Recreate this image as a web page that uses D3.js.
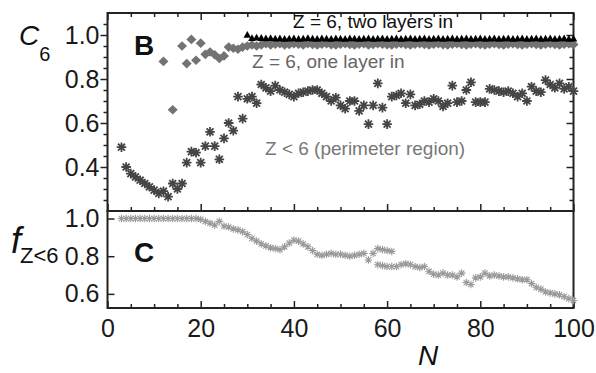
<!DOCTYPE html>
<html>
<head>
<meta charset="utf-8">
<script src="https://cdn.jsdelivr.net/npm/d3@7"></script>
<style>
  body { margin: 0; background: #fff; }
  svg { font-family: "Liberation Sans", Arial, Helvetica, sans-serif; }
</style>
</head>
<body>
<svg id="chart" width="596" height="373"></svg>
<script>
// C6 of the Z<6 (perimeter) particles, N = 3..100
const perimeterC6 = [
  .49, .40, .37, .355, .34, .325, .31, .295, .28, .29,
  .265, .325, .30, .325, .42, .47, .465, .42, .495, .56,
  .495, .435, .53, .60, .565, .72, .62, .71, .72, .69,
  .775, .76, .745, .77, .75, .74, .73, .72, .735, .74,
  .745, .75, .75, .735, .72, .70, .715, .68, .665, .70,
  .70, .655, .68, .595, .68, .78, .67, .595, .72, .725,
  .735, .69, .73, .68, .685, .70, .695, .71, .70, .675,
  .69, .77, .695, .70, .75, .785, .695, .695, .695, .755,
  .75, .745, .74, .745, .735, .72, .735, .70, .765, .745,
  .74, .795, .775, .76, .78, .755, .765, .745
];

// Z = 6, one layer in
const oneLayerN = [12, 14, 16, 17, 18, 19, 20, 21, 22, 23, 24, 25, 26, 27, 28, 29, 30];
const oneLayerC6 = [.88, .66, .95, .87, .98, .885, .963, .912, .923, .91, .893, .905, .945, .94, .935, .945, .95];
// N = 31..100
const oneLayerTail = [
  .955, .95, .955, .96, .955, .958, .96, .955, .957, .96,
  .958, .955, .96, .957, .955, .958, .96, .956, .955, .958,
  .96, .957, .955, .958, .96, .955, .957, .96, .958, .956,
  .955, .958, .96, .957, .955, .958, .96, .957, .955, .958,
  .96, .956, .955, .958, .96, .957, .955, .958, .96, .957,
  .955, .958, .96, .957, .955, .958, .96, .957, .955, .958,
  .96, .957, .955, .958, .96, .957, .955, .958, .96, .957
];

// Z = 6, two layers in, N = 30..100
const twoLayerC6 = [
  1.0, .985, .988, .986, .984, .985, .983, .984, .982, .983,
  .984, .982, .983, .985, .983, .982, .984, .983, .982, .984,
  .983, .982, .984, .983, .982, .983, .984, .982, .983, .984,
  .982, .983, .984, .982, .983, .984, .982, .983, .984, .982,
  .983, .984, .982, .983, .984, .982, .983, .984, .982, .983,
  .984, .982, .983, .984, .982, .983, .984, .982, .983, .984,
  .982, .983, .984, .982, .983, .984, .982, .983, .984, .982,
  .983
];

// fraction of Z<6 particles, N = 3..100
const fractionLow = [
  1.0, 1.0, 1.0, 1.0, 1.0, 1.0, 1.0, 1.0, 1.0, 1.0,
  1.0, 1.0, 1.0, 1.0, 1.0, 1.0, 1.0, .995, .985, .975,
  .965, .985, .96, .955, .945, .94, .93, .915, .895, .88,
  .865, .855, .845, .84, .835, .85, .87, .885, .88, .865,
  .85, .83, .81, .805, .81, .815, .81, .81, .805, .80,
  .805, .81, .815, .78, .815, .84, .835, .83, .825, .745,
  .755, .76, .755, .745, .74, .745, .72, .705, .70, .71,
  .70, .70, .69, .71, .66, .65, .685, .69, .71, .695,
  .70, .695, .69, .69, .685, .68, .675, .675, .655, .635,
  .625, .61, .605, .60, .595, .585, .575, .565
];
const fractionExtraN = [58, 59, 60, 61];
const fractionExtra = [.755, .75, .745, .745];

const xTicks = [0, 20, 40, 60, 80, 100];
const c6Ticks = [0.4, 0.6, 0.8, 1.0];
const fTicks = [0.6, 0.8, 1.0];

const svg = d3.select("#chart");

const x = d3.scaleLinear().domain([0, 100]).range([107.5, 573.5]);
const yB = d3.scaleLinear().domain([0.2, 1.1]).range([211, 13]);
const yC = d3.scaleLinear().domain([0.525, 1.04]).range([308, 211]);

const xMinor = d3.range(5, 100, 5).filter(v => v % 20 !== 0);
const yBMinor = d3.range(5, 22).filter(i => i % 4 !== 0).map(i => i * 0.05);

function addAxis(axis, transform, labelSize) {
  const g = svg.append("g")
    .attr("transform", transform)
    .call(axis)
    .attr("font-size", null)
    .attr("font-family", null);
  g.select(".domain").remove();
  g.selectAll("line").attr("stroke", "#222").attr("stroke-width", 1.5);
  if (labelSize) {
    g.selectAll("text").attr("fill", "#1a1a1a").style("font-size", labelSize + "px");
  } else {
    g.selectAll("text").remove();
  }
  return g;
}

// panel B axes
addAxis(d3.axisLeft(yB).tickValues(c6Ticks).tickSize(7).tickPadding(1).tickFormat(d3.format(".1f")),
  `translate(${x(0)},0)`, 25);
addAxis(d3.axisLeft(yB).tickValues(yBMinor).tickSize(4), `translate(${x(0)},0)`);
addAxis(d3.axisRight(yB).tickValues(c6Ticks).tickSize(-7), `translate(${x(100)},0)`);
addAxis(d3.axisRight(yB).tickValues(yBMinor).tickSize(-4), `translate(${x(100)},0)`);
addAxis(d3.axisTop(x).tickValues(xTicks).tickSize(-7), `translate(0,${yB(1.1)})`);
addAxis(d3.axisTop(x).tickValues(xMinor).tickSize(-4), `translate(0,${yB(1.1)})`);
addAxis(d3.axisBottom(x).tickValues(xTicks).tickSize(-7), `translate(0,${yB(0.2)})`);
addAxis(d3.axisBottom(x).tickValues(xMinor).tickSize(-4), `translate(0,${yB(0.2)})`);

// panel C axes
addAxis(d3.axisLeft(yC).tickValues(fTicks).tickSize(-7).tickPadding(8).tickFormat(d3.format(".1f")),
  `translate(${x(0)},0)`, 25);
addAxis(d3.axisBottom(x).tickValues(xTicks).tickSize(-7).tickPadding(11),
  `translate(0,${yC.range()[0]})`, 25);
addAxis(d3.axisBottom(x).tickValues(xMinor).tickSize(-4), `translate(0,${yC.range()[0]})`);

// frames
svg.append("rect")
  .attr("x", x(0)).attr("y", yB(1.1))
  .attr("width", x(100) - x(0)).attr("height", yB(0.2) - yB(1.1))
  .attr("fill", "none").attr("stroke", "#222").attr("stroke-width", 2);
svg.append("rect")
  .attr("x", x(0)).attr("y", yC.range()[1])
  .attr("width", x(100) - x(0)).attr("height", yC.range()[0] - yC.range()[1])
  .attr("fill", "none").attr("stroke", "#222").attr("stroke-width", 2);

function star(r) {
  const d = r * 0.72;
  return `M${-r},0H${r}M0,${-r}V${r}M${-d},${-d}L${d},${d}M${-d},${d}L${d},${-d}`;
}

// diamonds: one layer in
const oneData = oneLayerN.map((n, i) => [n, oneLayerC6[i]])
  .concat(oneLayerTail.map((v, i) => [31 + i, v]));
svg.append("g").selectAll("path")
  .data(oneData)
  .join("path")
  .attr("transform", d => `translate(${x(d[0])},${yB(d[1])})`)
  .attr("d", "M0,-4.8L5,0L0,4.8L-5,0Z")
  .attr("fill", "#737373");

// triangles: two layers in
svg.append("g").selectAll("path")
  .data(twoLayerC6.map((v, i) => [30 + i, v]))
  .join("path")
  .attr("transform", d => `translate(${x(d[0])},${yB(d[1])})`)
  .attr("d", "M0,-4L3.8,2.8L-3.8,2.8Z")
  .attr("fill", "#000");

// asterisks: perimeter region
svg.append("g").selectAll("path")
  .data(perimeterC6.map((v, i) => [3 + i, v]))
  .join("path")
  .attr("transform", d => `translate(${x(d[0])},${yB(d[1])})`)
  .attr("d", star(4.8))
  .attr("fill", "none")
  .attr("stroke", "#454545")
  .attr("stroke-width", 1.8);

// panel C asterisks
const fData = fractionLow.map((v, i) => [3 + i, v])
  .concat(fractionExtraN.map((n, i) => [n, fractionExtra[i]]));
svg.append("g").selectAll("path")
  .data(fData)
  .join("path")
  .attr("transform", d => `translate(${x(d[0])},${yC(d[1])})`)
  .attr("d", star(3.8))
  .attr("fill", "none")
  .attr("stroke", "#999")
  .attr("stroke-width", 1.1);

// annotations
svg.append("text").attr("x", 293).attr("y", 28)
  .style("font-size", "19px").attr("fill", "#111")
  .text("Z = 6, two layers in");
svg.append("text").attr("x", 252).attr("y", 68)
  .style("font-size", "19px").attr("fill", "#666")
  .text("Z = 6, one layer in");
svg.append("text").attr("x", 265).attr("y", 155)
  .style("font-size", "19px").attr("fill", "#777")
  .text("Z < 6 (perimeter region)");

svg.append("text").attr("x", 134).attr("y", 55)
  .style("font-size", "28px").style("font-weight", "bold").attr("fill", "#111")
  .text("B");
svg.append("text").attr("x", 134).attr("y", 262)
  .style("font-size", "28px").style("font-weight", "bold").attr("fill", "#111")
  .text("C");

// axis titles
const c6Label = svg.append("text").attr("x", 19).attr("y", 45).attr("fill", "#111");
c6Label.append("tspan").style("font-size", "28px").style("font-style", "italic").text("C");
c6Label.append("tspan").attr("dy", 16).style("font-size", "20px").text("6");

const fLabel = svg.append("text").attr("x", 11).attr("y", 253).attr("fill", "#111");
fLabel.append("tspan").style("font-size", "36px").style("font-style", "italic").text("f");
fLabel.append("tspan").attr("dy", 10).attr("dx", -1).style("font-size", "22px").text("Z<6");

svg.append("text").attr("x", 428).attr("y", 365)
  .attr("text-anchor", "middle")
  .style("font-size", "28px").style("font-style", "italic").attr("fill", "#111")
  .text("N");
</script>
</body>
</html>
